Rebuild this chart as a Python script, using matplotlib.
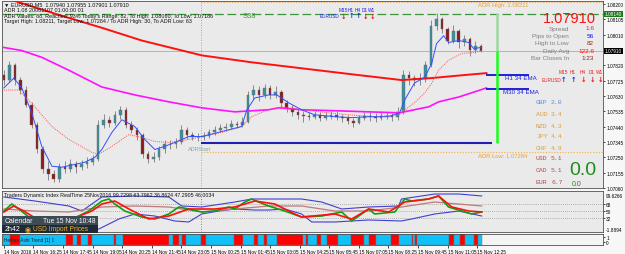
import matplotlib.pyplot as plt
from matplotlib.patches import Rectangle

plt.rcParams['font.family'] = ['Liberation Sans', 'DejaVu Sans']

W, H = 625, 255

# ---------------- data (x = index of the M5 bar) ----------------
bar_step = 3          # one drawn candle per 15 minutes
first_open = 1.07760
closes = [1.07729, 1.07821, 1.07729, 1.07667, 1.07575, 1.07453, 1.07300, 1.07177, 1.07146, 1.07116,
          1.07189, 1.07177, 1.07207, 1.07189, 1.07207, 1.07220, 1.07238, 1.07453, 1.07483, 1.07465,
          1.07514, 1.07545, 1.07453, 1.07422, 1.07391, 1.07269, 1.07238, 1.07250, 1.07300, 1.07330,
          1.07330, 1.07343, 1.07422, 1.07391, 1.07379, 1.07373, 1.07385, 1.07404, 1.07422, 1.07434,
          1.07440, 1.07459, 1.07453, 1.07471, 1.07637, 1.07667, 1.07637, 1.07680, 1.07637, 1.07655,
          1.07588, 1.07557, 1.07532, 1.07514, 1.07508, 1.07502, 1.07514, 1.07496, 1.07508, 1.07514,
          1.07502, 1.07496, 1.07477, 1.07465, 1.07496, 1.07508, 1.07502, 1.07496, 1.07508, 1.07508,
          1.07502, 1.07532, 1.07759, 1.07741, 1.07729, 1.07741, 1.07821, 1.08066, 1.08109, 1.08047,
          1.07974, 1.08035, 1.07962, 1.07986, 1.07913, 1.07943, 1.07910]
highs = [1.07790, 1.07845, 1.07835, 1.07750, 1.07690, 1.07590, 1.07470, 1.07320, 1.07230, 1.07170,
         1.07215, 1.07230, 1.07240, 1.07225, 1.07235, 1.07250, 1.07265, 1.07480, 1.07520, 1.07505,
         1.07540, 1.07570, 1.07560, 1.07475, 1.07440, 1.07400, 1.07290, 1.07285, 1.07320, 1.07355,
         1.07360, 1.07370, 1.07450, 1.07435, 1.07410, 1.07400, 1.07410, 1.07425, 1.07445, 1.07455,
         1.07465, 1.07480, 1.07475, 1.07500, 1.07660, 1.07700, 1.07690, 1.07705, 1.07700, 1.07690,
         1.07670, 1.07605, 1.07575, 1.07550, 1.07535, 1.07530, 1.07540, 1.07530, 1.07530, 1.07540,
         1.07535, 1.07520, 1.07510, 1.07495, 1.07515, 1.07530, 1.07535, 1.07525, 1.07540, 1.07530,
         1.07525, 1.07560, 1.07790, 1.07785, 1.07760, 1.07770, 1.07850, 1.08100, 1.08145, 1.08120,
         1.08060, 1.08070, 1.08045, 1.08010, 1.07995, 1.07970, 1.07955]
lows = [1.07700, 1.07715, 1.07700, 1.07640, 1.07560, 1.07430, 1.07280, 1.07150, 1.07110, 1.07095,
        1.07100, 1.07150, 1.07160, 1.07150, 1.07170, 1.07185, 1.07205, 1.07225, 1.07430, 1.07440,
        1.07450, 1.07490, 1.07430, 1.07400, 1.07360, 1.07245, 1.07215, 1.07220, 1.07235, 1.07280,
        1.07300, 1.07310, 1.07330, 1.07365, 1.07355, 1.07350, 1.07355, 1.07370, 1.07390, 1.07405,
        1.07415, 1.07425, 1.07430, 1.07440, 1.07460, 1.07610, 1.07600, 1.07615, 1.07610, 1.07615,
        1.07565, 1.07530, 1.07505, 1.07490, 1.07470, 1.07480, 1.07485, 1.07475, 1.07480, 1.07490,
        1.07480, 1.07470, 1.07455, 1.07440, 1.07455, 1.07480, 1.07475, 1.07470, 1.07480, 1.07485,
        1.07475, 1.07480, 1.07520, 1.07700, 1.07690, 1.07700, 1.07720, 1.07810, 1.08040, 1.08020,
        1.07950, 1.07960, 1.07930, 1.07940, 1.07880, 1.07895, 1.07901]

fast_bar = [0, 5.4, 9.7, 15.1, 20.5, 26, 31.4, 43.8, 49.2, 53, 58.4, 63.8, 70.8, 76.2, 81.6, 87,
            92.4, 100, 107, 117.8, 128.6, 131.4, 135.7, 143.2, 147.6, 154, 161, 168, 179, 188,
            197.3, 208, 214, 216.8, 222, 227.6, 231.4, 234, 237.8, 240.5, 246, 251.4, 254, 258.4]
fast_val = [1.07680, 1.07741, 1.07680, 1.07526, 1.07318, 1.07195, 1.07189, 1.07220, 1.07250, 1.07299,
            1.07404, 1.07483, 1.07441, 1.07361, 1.07299, 1.07318, 1.07342, 1.07379, 1.07379, 1.07410,
            1.07441, 1.07545, 1.07618, 1.07637, 1.07637, 1.07588, 1.07545, 1.07514, 1.07502, 1.07496,
            1.07502, 1.07502, 1.07526, 1.07606, 1.07710, 1.07747, 1.07833, 1.07955, 1.08004, 1.07962,
            1.07974, 1.07962, 1.07925, 1.07931]

slow_bar = [0, 8.1, 16.8, 26, 35.1, 47.6, 51.4, 58.4, 67.6, 74.6, 81.6, 89.2, 100, 117.8, 128.6,
            134, 143.2, 150.3, 161, 175.7, 186.5, 200.5, 213.5, 222, 227.6, 231.4, 235.1, 240.5,
            247.6, 254.6, 258.4]
slow_val = [1.07667, 1.07667, 1.07563, 1.07441, 1.07361, 1.07281, 1.07269, 1.07318, 1.07391, 1.07373,
            1.07349, 1.07342, 1.07361, 1.07404, 1.07441, 1.07502, 1.07545, 1.07563, 1.07545, 1.07526,
            1.07514, 1.07502, 1.07514, 1.07588, 1.07649, 1.07710, 1.07790, 1.07852, 1.07894, 1.07900,
            1.07913]

red_bar = [0, 5.9, 31.4, 53, 74.6, 107, 134, 161, 188, 215, 231, 248, 261]
red_val = [1.08237, 1.08219, 1.08127, 1.08053, 1.07974, 1.07882, 1.07839, 1.07802, 1.07765,
           1.07729, 1.07741, 1.07759, 1.07772]

mag_bar = [0, 9.7, 20.5, 35.1, 53, 70.8, 89.2, 107, 124.9, 143.2, 148.6, 161, 179, 197.3, 214,
           222, 229.7, 235.1, 246, 261]
mag_val = [1.07931, 1.07912, 1.07870, 1.07790, 1.07686, 1.07637, 1.07594, 1.07557, 1.07532, 1.07545,
           1.07557, 1.07545, 1.07539, 1.07532, 1.07526, 1.07545, 1.07563, 1.07594, 1.07624, 1.07680]

current_price = 1.07910
s38_level = 1.08140
adr_high = 1.08211
adr_low = 1.07284
day_start = 106.5
blue_level = 1.07342
h1_ema34 = 1.07759
m30_ema34 = 1.07673
range_bar = 266.5
day_high = 1.08145
ema_label_bars = [261, 284]

price_ticks = [1.07060, 1.07155, 1.07250, 1.07345, 1.07440, 1.07535, 1.07630, 1.07725,
               1.07820, 1.08010, 1.08105, 1.08200]
time_labels = ['14 Nov 2016', '14 Nov 16:25', '14 Nov 17:45', '14 Nov 19:05', '14 Nov 20:25',
               '14 Nov 21:45', '14 Nov 23:05', '15 Nov 00:25', '15 Nov 01:45', '15 Nov 03:05',
               '15 Nov 04:25', '15 Nov 05:45', '15 Nov 07:05', '15 Nov 08:25', '15 Nov 09:45',
               '15 Nov 11:05', '15 Nov 12:25']

# Traders Dynamic Index
up_bar = [0, 16.8, 35.1, 42.2, 53, 70.8, 89.2, 96.2, 107, 124.9, 134, 143.2, 161, 171.9, 182.7,
          197.3, 213.5, 215, 233, 246, 258.4]
up_val = [85.1, 75.1, 62.7, 50.2, 85.1, 87.6, 85.1, 62.7, 60.2, 72.6, 80.1, 80.1, 80.1, 72.6, 55.2,
          60.2, 62.7, 80.1, 92.5, 92.5, 87.6]
lo_bar = [0, 20.5, 36.8, 51.4, 62.2, 70.8, 81.6, 92.4, 100, 107, 116.2, 124.9, 135.7, 143.2, 151.9,
          161, 166.5, 179, 197.3, 215, 220.5, 233, 246, 258.4]
lo_val = [35.3, 30.3, 15.4, 5.5, 30.3, 42.8, 37.8, 25.4, 22.9, 42.8, 50.2, 55.2, 52.7, 52.7, 55.2,
          42.8, 22.9, 22.9, 27.9, 25.4, 30.3, 42.8, 50.2, 37.8]
mid_bar = [0, 16.8, 35.1, 53, 70.8, 89.2, 107, 124.9, 143.2, 161, 179, 197.3, 215, 233, 258.4]
mid_val = [55.2, 50.2, 47.8, 60.2, 62.7, 60.2, 47.8, 55.2, 62.7, 62.7, 50.2, 50.2, 60.2, 72.6, 62.7]
rsi_bar = [0, 4.3, 8.1, 13.5, 20.5, 28.6, 36.8, 40.5, 45.9, 53, 56.8, 60, 65.4, 74.6, 81.6, 89.2,
           94.6, 100, 107, 114, 121.6, 124.9, 130.3, 134, 137.8, 143.2, 151.9, 161, 171.9, 182.7,
           188.1, 197.3, 200.5, 211.4, 216.8, 220.5, 229.7, 235.1, 240.5, 247.6, 253, 258.4]
rsi_val = [50.2, 67.7, 55.2, 35.3, 25.4, 20.4, 30.3, 37.8, 50.2, 75.1, 80.1, 67.7, 50.2, 35.3, 30.3,
           42.8, 60.2, 55.2, 47.8, 50.2, 60.2, 55.2, 72.6, 80.1, 72.6, 62.7, 50.2, 35.3, 37.8, 47.8,
           25.4, 55.2, 42.8, 47.8, 80.1, 75.1, 80.1, 87.6, 60.2, 50.2, 42.8, 47.8]
sig_bar = [0, 5.4, 10.8, 17.8, 28.6, 39.5, 47.6, 53, 60, 67.6, 78.4, 89.2, 100, 114, 124.9, 135.7,
           146.5, 157.3, 161, 179, 188.1, 197.3, 208.1, 216.8, 229.7, 235.1, 242.2, 251.4, 258.4]
sig_val = [47.8, 62.7, 50.2, 30.3, 22.9, 35.3, 50.2, 67.7, 75.1, 55.2, 30.3, 37.8, 55.2, 55.2, 60.2,
           75.1, 67.7, 42.8, 35.3, 42.8, 30.3, 55.2, 47.8, 72.6, 80.1, 87.6, 60.2, 50.2, 47.8]
tdi_levels = [68, 50, 32]

# Heiken Ashi trend runs (bars), alternating blue / red
ha_runs = [4, 5, 25, 4, 2, 2, 4, 2, 12, 1, 4, 25, 2, 3, 2, 2, 8, 3, 15, 5, 6, 2, 3, 2, 5,
           14, 2, 1, 5, 2, 3, 6, 7, 7, 3, 4, 8, 4, 7, 1, 1, 1, 17, 3, 3, 3, 5, 2, 2]

stats_labels = ['Spread', 'Pips to Open', 'High to Low', 'Daily Avg', 'Bar Closes In']
stats_values = ['1.6', '56', '82', '122.6', '1:23']
stats_colors = ['#c03030', '#1010ff', '#a02020', '#ff1010', '#a02020']
currencies = ['GBP', 'AUD', 'NZD', 'JPY', 'CHF', 'USD', 'CAD', 'EUR']
strength = [2.0, 3.4, 4.3, 4.4, 4.9, 5.1, 5.1, 6.7]
cur_colors = ['#5b8fd8'] + ['#d9a040'] * 4 + ['#b84848'] * 3
tf_names = ['M15', 'H1', 'H4', 'D1', 'W1']
tf_dir_right = [1, 1, -1, -1, -1]
tf_dir_top = [-1, 1, 1, -1, -1]


def fax(x0, y0, x1, y1):
    return fig.add_axes([x0 / W, 1 - y1 / H, (x1 - x0) / W, (y1 - y0) / H])


def ftxt(x, y, s, **kw):
    kw.setdefault('va', 'center')
    kw.setdefault('zorder', 6)
    fig.text(x / W, 1 - y / H, s, **kw)


def frect(x0, y0, x1, y1, color):
    fig.patches.append(Rectangle((x0 / W, 1 - y1 / H), (x1 - x0) / W, (y1 - y0) / H,
                                 transform=fig.transFigure, facecolor=color,
                                 edgecolor='none', zorder=5))


def style_spines(a):
    for s in a.spines.values():
        s.set_color('#505050')
        s.set_linewidth(0.6)


BG = '#eaeaea'
fig = plt.figure(figsize=(W / 100, H / 100), dpi=100, facecolor='#f7f7f7')
xlim = (-1, 324)

# ---------------- main price panel ----------------
ax = fax(2, 2, 603, 189)
ax.set_facecolor(BG)
ax.set_xlim(*xlim)
ax.set_ylim(1.07060, 1.08219)

opens = [first_open] + closes[:-1]
for i in range(len(closes)):
    x = i * bar_step
    o, c = opens[i], closes[i]
    col = '#3a8fa0' if c >= o else '#8b1a1a'
    ax.vlines(x, lows[i], highs[i], color='#8a8a8a', lw=0.7, zorder=2)
    ax.bar(x, max(abs(c - o), 0.000012), bottom=min(o, c), width=1.4, color=col,
           edgecolor='#6a6a6a', linewidth=0.3, zorder=3)

ax.axhline(current_price, color='#b4b4b4', lw=0.7, zorder=1)
ax.axhline(s38_level, color='#3c963c', lw=0.9, dashes=(7, 3), zorder=1)
ax.axvline(day_start, color='#909090', lw=0.6, ls=(0, (1, 2)), zorder=1)
ax.hlines([adr_high, adr_low], day_start, xlim[1], colors='#f0b050', lw=0.8,
          linestyles=(0, (1, 1.5)), zorder=1)

ax.plot(red_bar, red_val, color='#ff1010', lw=1.4, zorder=4)
ax.plot(mag_bar, mag_val, color='#ff10ff', lw=1.2, zorder=4)
ax.plot(slow_bar, slow_val, color='#ff5050', lw=0.7, ls=(0, (1, 1.2)), zorder=4)
ax.plot(fast_bar, fast_val, color='#3050ff', lw=0.7, zorder=4)

ax.hlines(blue_level, day_start, 264, colors='#2020b0', lw=1.5, zorder=4)
ax.hlines([h1_ema34, m30_ema34], *ema_label_bars, colors='#1010d0', lw=1.3, zorder=4)
ax.vlines(range_bar, current_price, day_high, colors='#9ed89e', lw=1.8, zorder=4)
ax.vlines(range_bar, blue_level, current_price, colors='#18ff18', lw=1.8, zorder=4)

ax.yaxis.tick_right()
ax.set_yticks(price_ticks)
ax.set_yticklabels(['%.5f' % p for p in price_ticks])
ax.tick_params(axis='y', labelsize=3.4, length=1.5, pad=0.8, width=0.5)
ax.set_xticks([])
style_spines(ax)
ytr = ax.get_yaxis_transform()
ax.text(1.003, s38_level, '%.5f' % s38_level, transform=ytr, fontsize=3.4, color='white',
        va='center', ha='left', bbox=dict(fc='#1d7a1d', ec='none', pad=0.5), zorder=7)
ax.text(1.003, current_price, '%.5f' % current_price, transform=ytr, fontsize=3.4, color='white',
        va='center', ha='left', bbox=dict(fc='black', ec='none', pad=0.5), zorder=7)

# ---------------- TDI panel ----------------
ai = fax(2, 192, 603, 233)
ai.set_facecolor(BG)
ai.set_xlim(*xlim)
ai.set_ylim(-2, 100)
for lv in tdi_levels:
    ai.axhline(lv, color='#9a9a9a', lw=0.6, ls=(0, (1, 1.5)))
ai.axvline(day_start, color='#606060', lw=0.6, ls=(0, (1, 2)))
ai.plot(up_bar, up_val, color='#4040d0', lw=0.8)
ai.plot(lo_bar, lo_val, color='#4040d0', lw=0.8)
ai.plot(mid_bar, mid_val, color='#c07878', lw=0.9)
ai.plot(rsi_bar, rsi_val, color='#10a010', lw=1.2)
ai.plot(sig_bar, sig_val, color='#ff1010', lw=1.2)
ai.yaxis.tick_right()
ai.set_yticks(tdi_levels)
ai.set_yticklabels([str(v) for v in tdi_levels])
ai.tick_params(axis='y', labelsize=3.4, length=1.5, pad=0.8, width=0.5)
ai.set_xticks([])
ai.text(1.004, 0.9, '99.6266', transform=ai.transAxes, fontsize=3.4, va='center')
ai.text(1.004, 0.06, '-1.8894', transform=ai.transAxes, fontsize=3.4, va='center')
style_spines(ai)

# ---------------- Heiken Ashi strip ----------------
ah = fax(2, 235, 603, 246)
ah.set_facecolor('#f4f4f4')
ah.set_xlim(*xlim)
ah.set_ylim(0, 1)
start = 0
for k, n in enumerate(ha_runs):
    col = '#10c0f8' if k % 2 == 0 else '#ff0000'
    ah.broken_barh([(start - 0.5, n)], (0, 1), facecolors=col, edgecolors='#707070', linewidth=0.3)
    start += n
ah.set_yticks([0.25, 0.75])
ah.set_yticklabels(['0', '1'])
ah.yaxis.tick_right()
ah.tick_params(axis='y', labelsize=3.4, length=1.5, pad=0.8, width=0.5)
ah.set_xticks([16 * k for k in range(len(time_labels))])
ah.set_xticklabels(time_labels)
ah.tick_params(axis='x', labelsize=3.4, length=2, pad=1, width=0.5)
for lbl in ah.get_xticklabels():
    lbl.set_ha('left')
style_spines(ah)
ah.text(0.003, 0.5, 'Heiken Ashi Trend [1] 1', transform=ah.transAxes, fontsize=3.4,
        va='center', color='#202020')

# ---------------- overlay texts ----------------
hdr = ['\u25bc EURUSD,M5  1.07940 1.07955 1.07901 1.07910',
       'ADR 1.08 20061107 01:00:00 01',
       "ADR Values: 88, Reached: 93% Today's Range: 82, To High: 1.08060, To Low: 1.07186",
       'Target High: 1.08211, Target Low: 1.07284 / To ADR High: 30, To ADR Low: 63']
for k, s in enumerate(hdr):
    ftxt(4, 5 + 5.6 * k, s, fontsize=3.9, color='#101010')

ftxt(249, 17, 'S38', fontsize=5.5, color='#3c963c', ha='center')
ftxt(478, 6, 'ADR High: %.5f' % adr_high, fontsize=4.2, color='#e6a23c')
ftxt(478, 156, 'ADR Low: %.5f' % adr_low, fontsize=4.2, color='#e6a23c')
ftxt(188, 149.5, 'ADRStart', fontsize=4, color='#7ea6b8')
ftxt(505, 78.5, 'H1 34 EMA', fontsize=4.4, color='#2020e0')
ftxt(503, 93, 'M30 34 EMA', fontsize=4.4, color='#2020e0')

ftxt(596, 19, '%.5f' % current_price, fontsize=10.5, color='#ff1010', ha='right')
for k, (lab, val, col) in enumerate(zip(stats_labels, stats_values, stats_colors)):
    y = 29 + 7.4 * k
    ftxt(569, y, lab, fontsize=4.6, color='#808080', ha='right')
    ftxt(594, y, val, fontsize=4.6, color=col, ha='right')

tf_x_right = [563, 573, 583, 592, 600]
tf_x_top = [343, 351, 358, 365, 372]
for k, name in enumerate(tf_names):
    ftxt(tf_x_right[k], 73, name, fontsize=3.4, color='#e02020', ha='center')
    d = tf_dir_right[k]
    ftxt(tf_x_right[k], 79.5, '\u2191' if d > 0 else '\u2193', fontsize=4.8, fontweight='bold',
         color='#1030e0' if d > 0 else '#f01010', ha='center', family='DejaVu Sans')
    ftxt(tf_x_top[k], 11, name, fontsize=3.4, color='#2020e0', ha='center')
    d = tf_dir_top[k]
    ftxt(tf_x_top[k], 16.5, '\u2191' if d > 0 else '\u2193', fontsize=4.8, fontweight='bold',
         color='#1030e0' if d > 0 else '#f01010', ha='center', family='DejaVu Sans')
ftxt(551, 80, 'EURUSD', fontsize=3.4, color='#e02020', ha='center')
ftxt(329, 17, 'EURUSD', fontsize=3.4, color='#2020e0', ha='center')

cur_y = [102, 115, 126, 137, 148, 159, 171, 183]
for k, (cur, v) in enumerate(zip(currencies, strength)):
    ftxt(536, cur_y[k], cur, fontsize=4.6, color=cur_colors[k], family='Liberation Mono')
    ftxt(551, cur_y[k], '%.1f' % v, fontsize=4.6, color=cur_colors[k], family='Liberation Mono')
ftxt(583, 171, '0.0', fontsize=14, color='#1e8c1e', ha='center')
ftxt(577, 185, '0.0', fontsize=5, color='#1e8c1e', ha='center')

ftxt(4, 196, 'Traders Dynamic Index RealTime 25Nov2016 99.7298 63.7962 36.8624 47.2905 46.0034',
     fontsize=3.8, color='#101010')

# calendar box
frect(2, 217, 98, 225.5, '#3d4b55')
frect(2, 225.5, 98, 234, '#1f2b33')
ftxt(5, 221.3, 'Calendar', fontsize=5, color='white')
ftxt(96, 221.3, 'Tue 15 Nov 10:48', fontsize=4.8, color='white', ha='right')
ftxt(5, 229.8, '2h42', fontsize=5, color='white')
ftxt(25, 229.8, '\u25c9', fontsize=5, color='#f0b040', family='DejaVu Sans')
ftxt(33, 229.8, 'USD Import Prices', fontsize=4.8, color='#f0b040')

fig.savefig('out.png', dpi=100, facecolor=fig.get_facecolor())
